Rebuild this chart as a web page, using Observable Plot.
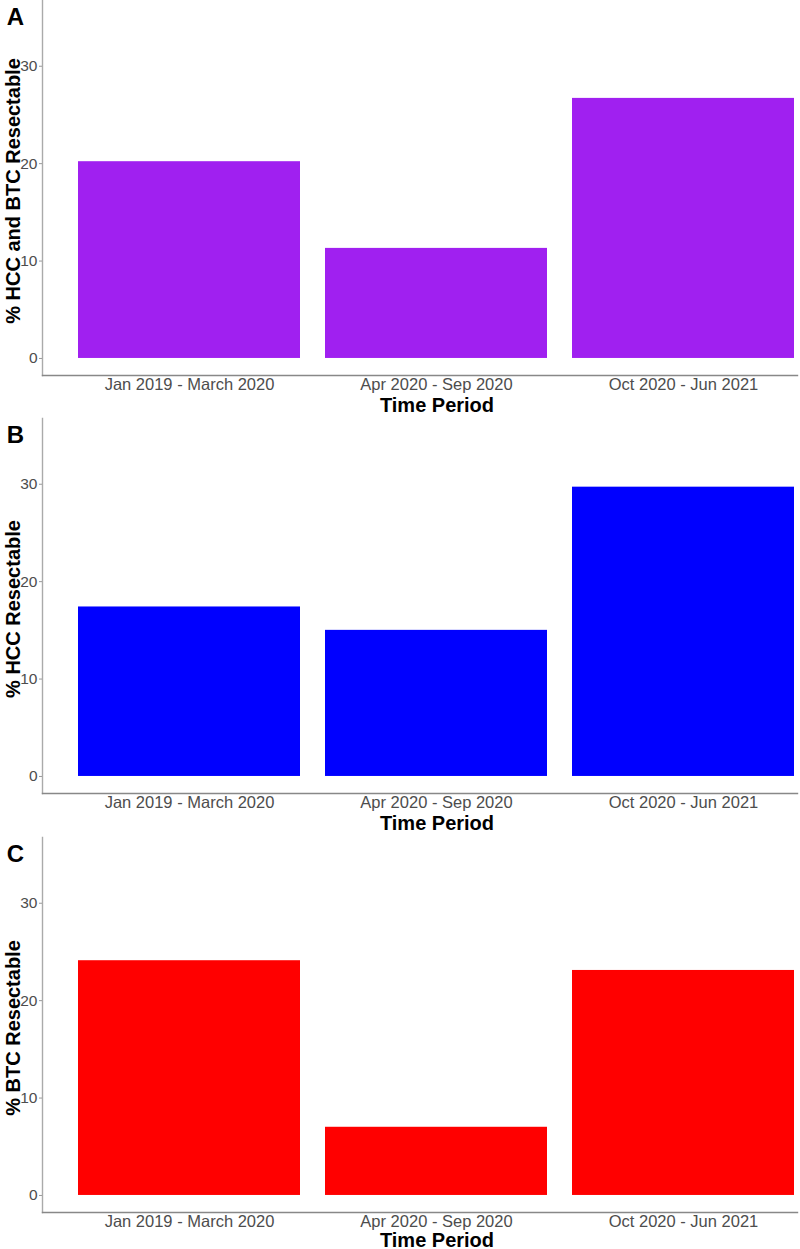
<!DOCTYPE html>
<html>
<head>
<meta charset="utf-8">
<script src="https://cdn.jsdelivr.net/npm/d3@7"></script>
<script src="https://cdn.jsdelivr.net/npm/@observablehq/plot@0.6"></script>
<style>
  html, body { margin: 0; padding: 0; background: #fff; }
  #chart { width: 800px; }
  #chart svg { display: block; }
</style>
</head>
<body>
<div id="chart"></div>
<script>
const periods = ["Jan 2019 - March 2020", "Apr 2020 - Sep 2020", "Oct 2020 - Jun 2021"];
const valuesA = [20.2, 11.3, 26.7];
const valuesB = [17.4, 15.0, 29.7];
const valuesC = [24.1, 7.0, 23.1];
const yTicks = [0, 10, 20, 30];

const panels = [
  {letter: "A", label: "% HCC and BTC Resectable", values: valuesA, color: "#A020F0", height: 418, mb: 43, titleDy: 30},
  {letter: "B", label: "% HCC Resectable", values: valuesB, color: "#0000FF", height: 419, mb: 44, titleDy: 30},
  {letter: "C", label: "% BTC Resectable", values: valuesC, color: "#FF0000", height: 412, mb: 37, titleDy: 28}
];

const font = "'Liberation Sans', Arial, sans-serif";
const container = document.getElementById("chart");

for (const p of panels) {
  const data = periods.map((period, i) => ({period, value: p.values[i]}));
  const chart = Plot.plot({
    width: 800,
    height: p.height,
    marginTop: 0,
    marginLeft: 42,
    marginRight: 3,
    marginBottom: p.mb,
    style: {fontFamily: font, background: "#fff", overflow: "visible"},
    x: {domain: periods, range: [53.25, 819.75], paddingInner: 0.1, paddingOuter: 0.1},
    y: {domain: [-1.75, 36.75]},
    marks: [
      Plot.barY(data, {x: "period", y: "value", fill: p.color}),
      Plot.frame({anchor: "left", stroke: "#aaa", strokeWidth: 1.4}),
      Plot.frame({anchor: "bottom", stroke: "#888", strokeWidth: 1.4}),
      Plot.axisY({ticks: yTicks, tickSize: 3, tickPadding: 2, fontSize: 15.5, label: null, stroke: "#999", color: "#4d4d4d"}),
      Plot.axisX({tickSize: 0, tickPadding: 3, fontSize: 16.5, label: null, color: "#4d4d4d"}),
      Plot.text(["Time Period"], {frameAnchor: "bottom", lineAnchor: "middle", dx: 17, dy: p.titleDy, fontSize: 20, fontWeight: "bold", fill: "#000"}),
      Plot.text([p.label], {frameAnchor: "left", textAnchor: "middle", lineAnchor: "middle", dx: -29, dy: 3, rotate: -90, fontSize: 20, fontWeight: "bold", fill: "#000"}),
      Plot.text([p.letter], {frameAnchor: "top-left", textAnchor: "middle", lineAnchor: "middle", dx: -27, dy: 17, fontSize: 24, fontWeight: "bold", fill: "#000"})
    ]
  });
  container.appendChild(chart);
}
</script>
</body>
</html>
